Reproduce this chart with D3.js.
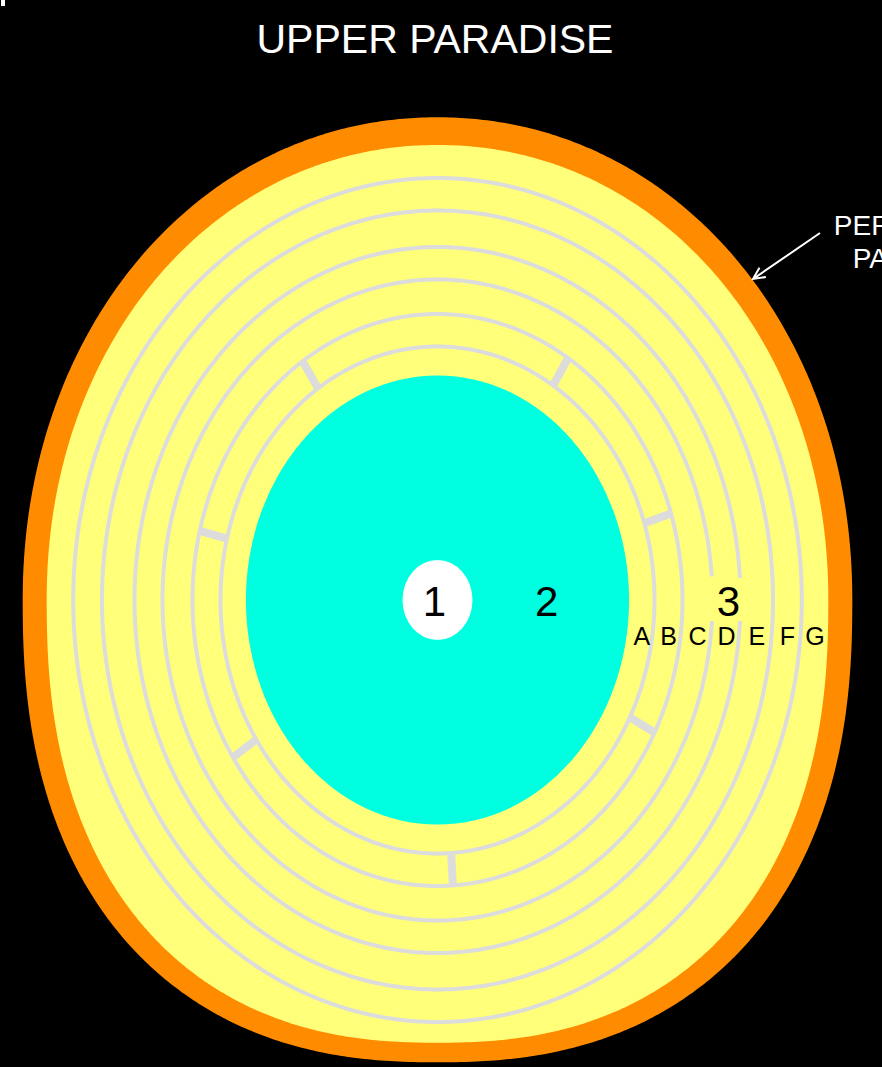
<!DOCTYPE html>
<html>
<head>
<meta charset="utf-8">
<script src="https://cdn.jsdelivr.net/npm/d3@7"></script>
<style>
  html, body { margin: 0; padding: 0; background: #000; }
  svg { display: block; }
  text { font-family: "Liberation Sans", Arial, sans-serif; }
</style>
</head>
<body>
<div id="chart"></div>
<script>
// Chart data
const title = 'UPPER PARADISE';
const sideLabel = ['PERIPHERAL', 'PARADISE'];

// outer rim (orange) and inner rim (yellow), egg shaped: [outer, inner]
const rimRx = [414.8, 390.8];
const rimRyTop = [482.7, 455];
const rimRyBottom = [462.3, 442.7];
const rimPowTop = [2.05, 2.05];
const rimPowBottom = [2.35, 2.35];
const rimColors = ['#ff8c00', '#ffff7a'];

// central spheres: 1 (white) and 2 (cyan)
const sphereNames = ['1', '2'];
const sphereRx = [35, 191.6];
const sphereRy = [40, 224.6];
const sphereColors = ['#ffffff', '#00ffe1'];

// circuit lines between zones A..G
const circuitRx = [217, 245, 275, 303, 335.5, 364.3];
const circuitRy = [253.5, 286, 320.5, 353, 389.5, 422];
const brokenCircuits = [2, 3];          // lines interrupted by the "3" label
const zoneNames = ['A', 'B', 'C', 'D', 'E', 'F', 'G'];

// partitions in zone B (parametric angle, degrees)
const partitionAngles = [27.6, 86.4, 146.6, 194, 236.6, 302.2, 342.4];

const width = 882, height = 1067;
const cx = 437.5, cy = 600;

const x = d3.scaleLinear().domain([-cx, width - cx]).range([0, width]);
const y = d3.scaleLinear().domain([-cy, height - cy]).range([0, height]);

const svg = d3.select('#chart')
    .append('svg')
    .attr('width', width)
    .attr('height', height)
    .style('background-color', '#000');

// egg shape (superellipse halves with different top/bottom radii)
function eggPoints(rx, ryTop, ryBottom, nTop, nBottom) {
    return d3.range(0, 360, 0.5).map(deg => {
        const t = deg * Math.PI / 180, c = Math.cos(t), s = Math.sin(t);
        const n = s < 0 ? nTop : nBottom;
        const px = Math.sign(c) * Math.pow(Math.abs(c), 2 / n) * rx;
        const py = Math.sign(s) * Math.pow(Math.abs(s), 2 / n) * (s < 0 ? ryTop : ryBottom);
        return [x(px), y(py)];
    });
}

function arcPoints(rx, ry, a0, a1) {
    return d3.range(a0, a1 + 0.001, 0.5).map(deg => {
        const t = deg * Math.PI / 180;
        return [x(rx * Math.cos(t)), y(ry * Math.sin(t))];
    });
}

const closed = d3.line().curve(d3.curveLinearClosed);
const open = d3.line();

// rims
svg.append('g')
    .selectAll('path')
    .data(rimRx)
    .join('path')
    .attr('d', (d, i) => closed(eggPoints(d, rimRyTop[i], rimRyBottom[i], rimPowTop[i], rimPowBottom[i])))
    .style('fill', (d, i) => rimColors[i]);

// circuit lines
const labelGap = 21;
svg.append('g')
    .selectAll('path')
    .data(circuitRx)
    .join('path')
    .attr('d', (d, i) => {
        if (brokenCircuits.includes(i)) {
            const g = Math.asin(labelGap / circuitRy[i]) * 180 / Math.PI;
            return open(arcPoints(d, circuitRy[i], g, 360 - g));
        }
        return closed(arcPoints(d, circuitRy[i], 0, 359.5));
    })
    .style('fill', 'none')
    .style('stroke', '#dcdcdc')
    .style('stroke-width', 4);

// partitions across zone B
svg.append('g')
    .selectAll('line')
    .data(partitionAngles)
    .join('line')
    .attr('x1', d => x(circuitRx[0] * Math.cos(d * Math.PI / 180)))
    .attr('y1', d => y(circuitRy[0] * Math.sin(d * Math.PI / 180)))
    .attr('x2', d => x(circuitRx[1] * Math.cos(d * Math.PI / 180)))
    .attr('y2', d => y(circuitRy[1] * Math.sin(d * Math.PI / 180)))
    .style('stroke', '#dcdcdc')
    .style('stroke-width', 8);

// spheres (draw larger first)
svg.append('g')
    .selectAll('ellipse')
    .data(d3.range(sphereRx.length).reverse())
    .join('ellipse')
    .attr('cx', x(0))
    .attr('cy', y(0))
    .attr('rx', i => sphereRx[i])
    .attr('ry', i => sphereRy[i])
    .style('fill', i => sphereColors[i]);

// zone numbers
const bandEdges = [sphereRx[1]].concat(circuitRx, [rimRx[1]]);
const bandMid = d3.range(zoneNames.length).map(i => (bandEdges[i] + bandEdges[i + 1]) / 2);
const numberX = [-3, (sphereRx[0] + sphereRx[1]) / 2 - 4, bandMid[3] + 2];

svg.append('g')
    .selectAll('text')
    .data(['1', '2', '3'])
    .join('text')
    .attr('x', (d, i) => x(numberX[i]))
    .attr('y', y(16))
    .text(d => d)
    .style('fill', '#000')
    .style('font-size', '42px')
    .style('text-anchor', 'middle');

svg.append('g')
    .selectAll('text')
    .data(zoneNames)
    .join('text')
    .attr('x', (d, i) => x(bandMid[i]))
    .attr('y', y(45))
    .text(d => d)
    .style('fill', '#000')
    .style('font-size', '25px')
    .style('text-anchor', 'middle');

// title
svg.append('text')
    .attr('x', 435)
    .attr('y', 53)
    .text(title)
    .style('fill', '#fff')
    .style('font-size', '41px')
    .style('text-anchor', 'middle');

// peripheral paradise label + arrow
svg.append('text')
    .selectAll('tspan')
    .data(sideLabel)
    .join('tspan')
    .attr('x', 922.5)
    .attr('y', (d, i) => 235 + i * 33)
    .text(d => d)
    .style('fill', '#fff')
    .style('font-size', '28px')
    .style('text-anchor', 'middle');

const arrow = { x1: 820, y1: 233, x2: 753, y2: 279 };
const ang = Math.atan2(arrow.y2 - arrow.y1, arrow.x2 - arrow.x1);
const head = 13, spread = 0.45;
svg.append('path')
    .attr('d', `M${arrow.x1},${arrow.y1}L${arrow.x2},${arrow.y2}` +
        `M${arrow.x2 - head * Math.cos(ang - spread)},${arrow.y2 - head * Math.sin(ang - spread)}` +
        `L${arrow.x2},${arrow.y2}` +
        `L${arrow.x2 - head * Math.cos(ang + spread)},${arrow.y2 - head * Math.sin(ang + spread)}`)
    .style('fill', 'none')
    .style('stroke', '#fff')
    .style('stroke-width', 2);

// small mark at the top-left corner
svg.append('rect')
    .attr('x', 1)
    .attr('y', 0)
    .attr('width', 4)
    .attr('height', 6)
    .style('fill', '#fff');
</script>
</body>
</html>
